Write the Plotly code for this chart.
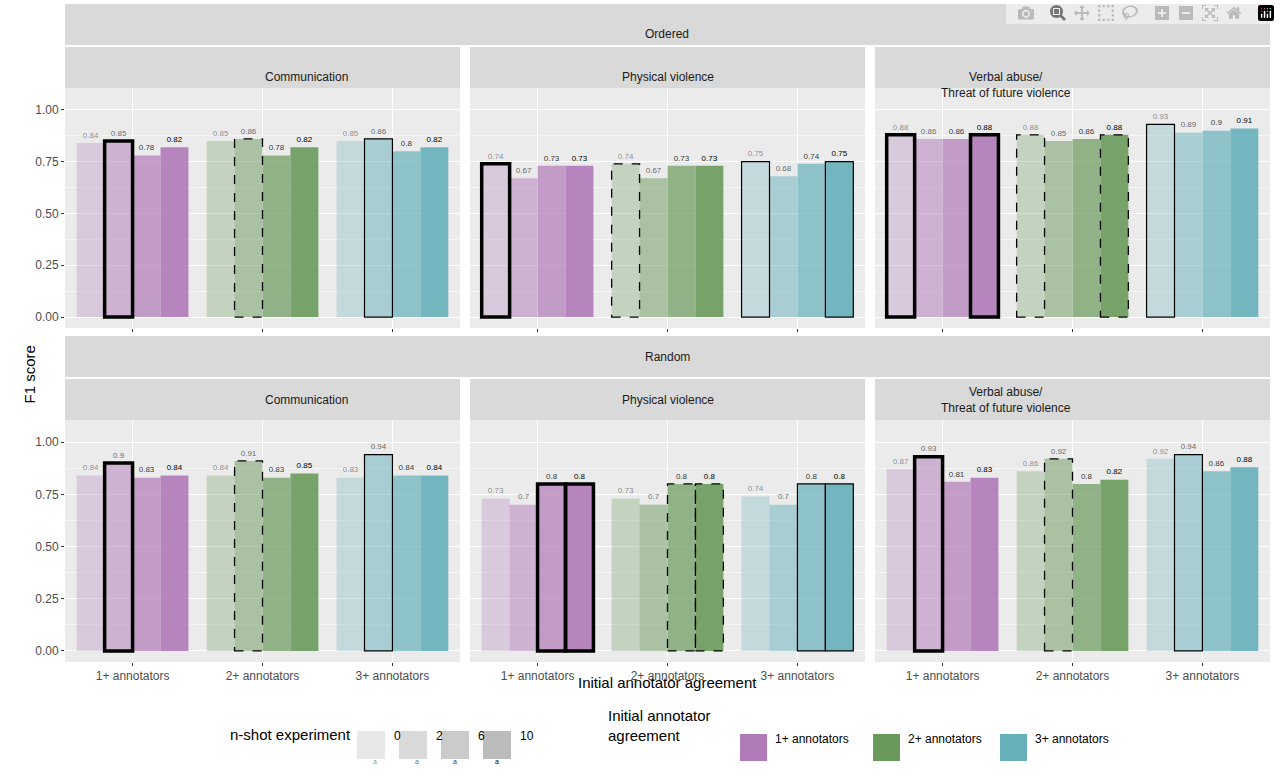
import plotly.graph_objects as go

groups = ["1+ annotators", "2+ annotators", "3+ annotators"]
shots = ["0", "2", "6", "10"]
facets = ["Communication", "Physical violence", "Verbal abuse/<br>Threat of future violence"]
orders = ["Ordered", "Random"]

ord_comm = [[0.84, 0.85, 0.78, 0.82], [0.85, 0.86, 0.78, 0.82], [0.85, 0.86, 0.80, 0.82]]
ord_phys = [[0.74, 0.67, 0.73, 0.73], [0.74, 0.67, 0.73, 0.73], [0.75, 0.68, 0.74, 0.75]]
ord_verb = [[0.88, 0.86, 0.86, 0.88], [0.88, 0.85, 0.86, 0.88], [0.93, 0.89, 0.90, 0.91]]
rnd_comm = [[0.84, 0.90, 0.83, 0.84], [0.84, 0.91, 0.83, 0.85], [0.83, 0.94, 0.84, 0.84]]
rnd_phys = [[0.73, 0.70, 0.80, 0.80], [0.73, 0.70, 0.80, 0.80], [0.74, 0.70, 0.80, 0.80]]
rnd_verb = [[0.87, 0.93, 0.81, 0.83], [0.86, 0.92, 0.80, 0.82], [0.92, 0.94, 0.86, 0.88]]
data = [[ord_comm, ord_phys, ord_verb], [rnd_comm, rnd_phys, rnd_verb]]

colors = [(176, 122, 184), (106, 154, 91), (102, 176, 186)]
alphas = [0.3, 0.5, 0.7, 0.9]
txt_alpha = [0.45, 0.6, 0.8, 1.0]
outline = [dict(width=3.5, dash="solid"), dict(width=1.3, dash="dash"), dict(width=1.2, dash="solid")]

W, H = 1280, 776
colpx = [(65, 460), (470, 865), (875, 1270)]
rowpx = [(88, 328), (420, 662)]
bw = 0.215
fig = go.Figure()
shapes, annos = [], []
layout = {}

def px2x(p): return p / W
def px2y(p): return 1 - p / H

for r in range(2):
    for c in range(3):
        idx = r * 3 + c + 1
        xa = "xaxis" if idx == 1 else f"xaxis{idx}"
        ya = "yaxis" if idx == 1 else f"yaxis{idx}"
        xr = "x" if idx == 1 else f"x{idx}"
        yr = "y" if idx == 1 else f"y{idx}"
        layout[xa] = dict(domain=[px2x(colpx[c][0]), px2x(colpx[c][1])], anchor=yr,
                          range=[-0.52, 2.52], tickvals=[0, 1, 2],
                          ticktext=groups if r == 1 else ["", "", ""],
                          showticklabels=(r == 1), gridcolor="white", ticks="outside", ticklen=3,
                          tickcolor="#333", tickfont=dict(size=12, color="#4D4D4D"),
                          zeroline=False, showline=False)
        layout[ya] = dict(domain=[px2y(rowpx[r][1]), px2y(rowpx[r][0])], anchor=xr,
                          range=[-0.053, 1.106], tickvals=[0, 0.25, 0.5, 0.75, 1.0],
                          ticktext=["0.00", "0.25", "0.50", "0.75", "1.00"] if c == 0 else [""] * 5,
                          showticklabels=(c == 0), gridcolor="white", ticks="outside" if c == 0 else "",
                          ticklen=3, tickcolor="#333", tickfont=dict(size=12, color="#4D4D4D"),
                          zeroline=False, minor=dict(tickvals=[0.125, 0.375, 0.625, 0.875], gridcolor="#F5F5F5", gridwidth=0.5))
        shapes.append(dict(type="rect", xref="paper", yref="paper", layer="below",
                           x0=px2x(colpx[c][0]), x1=px2x(colpx[c][1]),
                           y0=px2y(rowpx[r][1]), y1=px2y(rowpx[r][0]),
                           fillcolor="#EBEBEB", line_width=0))
        shapes.append(dict(type="rect", xref="paper", yref="paper", layer="below",
                           x0=px2x(colpx[c][0]), x1=px2x(colpx[c][1]),
                           y0=px2y(rowpx[r][0]), y1=px2y(rowpx[r][0] - 41),
                           fillcolor="#D9D9D9", line_width=0))
        annos.append(dict(text=facets[c], xref="paper", yref="paper", showarrow=False,
                          x=(px2x(colpx[c][0]) + px2x(colpx[c][1])) / 2,
                          y=px2y(rowpx[r][0] - 20), font=dict(size=12, color="#1A1A1A")))
        vals = data[r][c]
        for g in range(3):
            mx = max(vals[g])
            for k in range(4):
                xv = g + (k - 1.5) * bw
                v = vals[g][k]
                rgb = colors[g]
                fig.add_trace(go.Bar(x=[xv], y=[v], width=bw, xaxis=xr, yaxis=yr,
                                     marker=dict(color=f"rgba({rgb[0]},{rgb[1]},{rgb[2]},{alphas[k]})", line_width=0),
                                     showlegend=False, hoverinfo="skip"))
                lab = f"{v:.2f}".rstrip("0").rstrip(".")
                fig.add_trace(go.Scatter(x=[xv], y=[v + 0.035], mode="text", text=[lab],
                                         xaxis=xr, yaxis=yr, showlegend=False, hoverinfo="skip",
                                         textfont=dict(size=8, color=f"rgba(0,0,0,{txt_alpha[k]})")))
                if v == mx:
                    o = outline[g]
                    shapes.append(dict(type="rect", xref=xr, yref=yr, x0=xv - bw / 2, x1=xv + bw / 2,
                                       y0=0, y1=v, line=dict(color="black", width=o["width"], dash=o["dash"])))
    shapes.append(dict(type="rect", xref="paper", yref="paper", layer="below",
                       x0=px2x(65), x1=px2x(1270), y0=px2y(rowpx[r][0] - 43), y1=px2y(rowpx[r][0] - 84),
                       fillcolor="#D9D9D9", line_width=0))
    annos.append(dict(text=orders[r], xref="paper", yref="paper", showarrow=False,
                      x=px2x(667), y=px2y(rowpx[r][0] - 63), font=dict(size=12, color="#1A1A1A")))

annos.append(dict(text="F1 score", xref="paper", yref="paper", showarrow=False, textangle=-90,
                  x=px2x(18), y=px2y(375), font=dict(size=15, color="black")))
annos.append(dict(text="Initial annotator agreement", xref="paper", yref="paper", showarrow=False,
                  x=px2x(667), y=px2y(693), font=dict(size=15, color="black")))

annos.append(dict(text="n-shot experiment", xref="paper", yref="paper", showarrow=False, xanchor="left",
                  x=px2x(228), y=px2y(745), font=dict(size=15, color="black")))
sq_x = [357, 399, 441, 483]
for k in range(4):
    shapes.append(dict(type="rect", xref="paper", yref="paper", x0=px2x(sq_x[k]), x1=px2x(sq_x[k] + 28),
                       y0=px2y(759), y1=px2y(731), fillcolor=f"rgba(130,130,130,{alphas[k] * 0.6})", line_width=0))
    annos.append(dict(text=shots[k], xref="paper", yref="paper", showarrow=False, xanchor="left",
                      x=px2x(sq_x[k] + 35), y=px2y(745), font=dict(size=12, color="black")))
    annos.append(dict(text="a", xref="paper", yref="paper", showarrow=False,
                      x=px2x(sq_x[k] + 14), y=px2y(767), font=dict(size=7, color=f"rgba(0,0,0,{txt_alpha[k]})")))
annos.append(dict(text="Initial annotator<br>agreement", xref="paper", yref="paper", showarrow=False,
                  xanchor="left", align="left", x=px2x(606), y=px2y(746), font=dict(size=15, color="black")))
cx = [740, 873, 1000]
for g in range(3):
    rgb = colors[g]
    shapes.append(dict(type="rect", xref="paper", yref="paper", x0=px2x(cx[g]), x1=px2x(cx[g] + 27),
                       y0=px2y(761), y1=px2y(734), fillcolor=f"rgb({rgb[0]},{rgb[1]},{rgb[2]})", line_width=0))
    annos.append(dict(text=groups[g], xref="paper", yref="paper", showarrow=False, xanchor="left",
                      x=px2x(cx[g] + 33), y=px2y(748), font=dict(size=12, color="black")))

fig.update_layout(width=W, height=H, margin=dict(l=0, r=0, t=0, b=0), plot_bgcolor="rgba(0,0,0,0)",
                  paper_bgcolor="white", barmode="overlay", shapes=shapes, annotations=annos,
                  font=dict(family="Liberation Sans, Arial"), showlegend=False, **layout)
fig.write_html("out.html", post_script="document.body.style.margin='0';document.body.style.overflow='hidden';")
